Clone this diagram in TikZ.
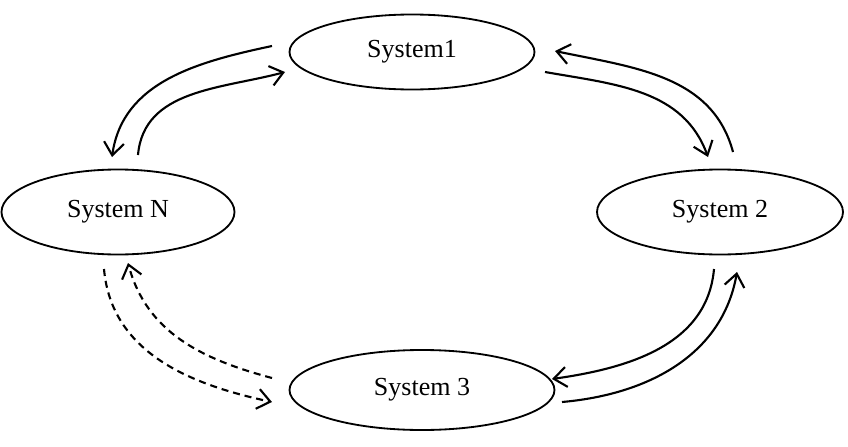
\documentclass[tikz,border=0pt]{standalone}
\usepackage{fontspec}
\setmainfont{Liberation Serif}
\usetikzlibrary{arrows.meta,shapes.geometric}
\tikzset{
  sys/.style={ellipse,draw=black,line width=1.3pt,inner sep=0pt,
              font=\fontsize{18.5}{22}\selectfont},
  fl/.style={-{Straight Barb[length=3.2mm,width=5mm]},line width=1.5pt,draw=black},
  fld/.style={fl,dash pattern=on 5pt off 3.5pt},
}
\begin{document}
\begin{tikzpicture}[x=0.025cm,y=0.025cm]
\useasboundingbox (0,-447) rectangle (848,0);
\node[sys,minimum width=245*0.025cm,minimum height=75*0.025cm] (s1) at (412,-52) {System1};
\node[sys,minimum width=233*0.025cm,minimum height=85*0.025cm] (sn) at (118,-212) {System N};
\node[sys,minimum width=246*0.025cm,minimum height=85*0.025cm] (s2) at (720,-212) {System 2};
\node[sys,minimum width=265*0.025cm,minimum height=80*0.025cm] (s3) at (422,-390) {System 3};
% free ends of the connectors
\coordinate (a1) at (272,-46);  \coordinate (b1) at (112,-157);
\coordinate (a2) at (138,-155); \coordinate (b2) at (285,-72);
\coordinate (a3) at (545,-72);  \coordinate (b3) at (708,-157);
\coordinate (a4) at (733,-152); \coordinate (b4) at (555,-51);
\coordinate (a5) at (714,-269); \coordinate (b5) at (552,-379);
\coordinate (a6) at (562,-402); \coordinate (b6) at (737,-272);
\coordinate (a7) at (104,-269); \coordinate (b7) at (272,-402);
\coordinate (a8) at (272,-378); \coordinate (b8) at (128,-263);
\draw[fl](a1) to[out=192,in=82] (b1);
\draw[fl](a2) to[out=85,in=195] (b2);
\draw[fl](a3) to[out=-10,in=110] (b3);
\draw[fl](a4) to[out=105,in=-12] (b4);
\draw[fl](a5) to[out=-95,in=8] (b5);
\draw[fl](a6) to[out=5,in=-100] (b6);
\draw[fld](a7) to[out=-85,in=168] (b7);
\draw[fld](a8) to[out=165,in=-75] (b8);
\end{tikzpicture}
\end{document}
